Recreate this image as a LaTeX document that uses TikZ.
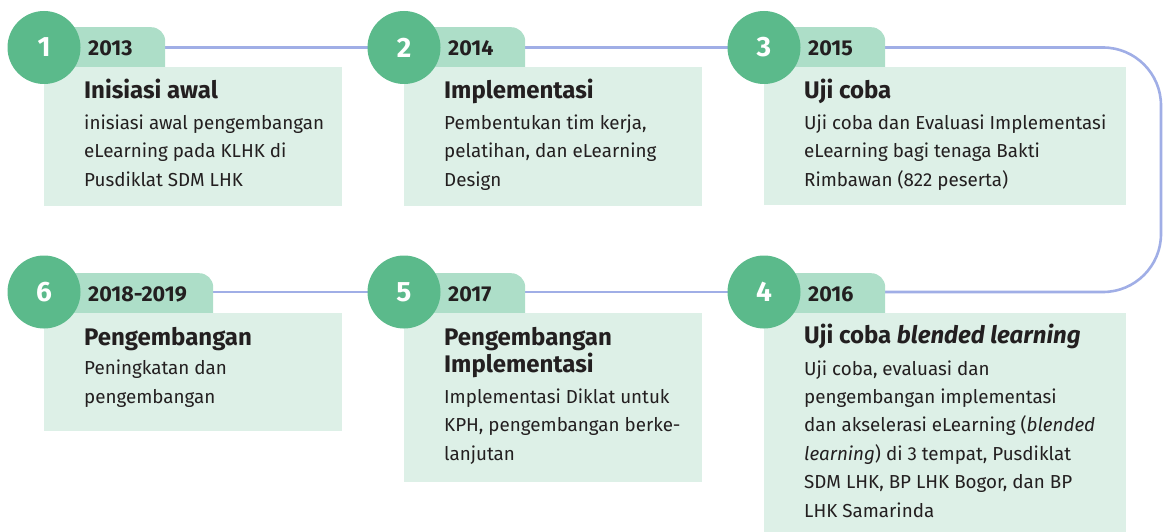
\documentclass[tikz,border=0pt]{standalone}
\usepackage{fontspec}
\setmainfont{Fira Sans}
\definecolor{circ}{HTML}{5BBA8B}
\definecolor{tabc}{HTML}{ADDEC8}
\definecolor{boxc}{HTML}{DDF0E7}
\definecolor{linec}{HTML}{A0AEE6}
\definecolor{ink}{HTML}{231F20}
\begin{document}
\begin{tikzpicture}[x=1pt,y=-1pt,
  conn/.style={draw=linec, line width=2.6pt},
  tabbox/.style={fill=tabc, rounded corners=14pt, minimum height=55pt, anchor=north west, inner sep=0},
  cardbox/.style={fill=boxc, anchor=north west, inner sep=0},
  numcirc/.style={circle, fill=circ, minimum size=73pt, inner sep=0, text=white, font=\fontsize{28}{30}\selectfont\bfseries},
  yeartxt/.style={anchor=base west, inner sep=0, text=ink, font=\fontsize{21.5}{24}\selectfont\bfseries},
  titletxt/.style={anchor=base west, inner sep=0, text=ink, align=left, font=\fontsize{24}{27}\selectfont\bfseries},
  bodytxt/.style={anchor=base west, inner sep=0, text=ink, align=left, font=\fontsize{18.8}{28.4}\selectfont}]
\useasboundingbox (0,0) rectangle (1163,532);
% circle centre coordinates
\coordinate (p1) at (44,47.5);
\coordinate (p2) at (404,47.5);
\coordinate (p3) at (764,47.5);
\coordinate (p6) at (44,292);
\coordinate (p5) at (404,292);
\coordinate (p4) at (764,292);
\coordinate (turnA) at (1161,47.5);
\coordinate (turnB) at (1161,292);
% connectors (behind)
\draw[conn] (p1) -- (p2);
\draw[conn] (p2) -- (p3);
\draw[conn, rounded corners=58pt] (p3) -- (turnA) -- (turnB) -- (p4);
\draw[conn] (p4) -- (p5);
\draw[conn] (p5) -- (p6);
% tabs
\node[tabbox, minimum width=135pt] (t1) at (30,27) {};
\node[tabbox, minimum width=135pt] (t2) at (390,27) {};
\node[tabbox, minimum width=135pt] (t3) at (750,27) {};
\node[tabbox, minimum width=183pt] (t6) at (30,273) {};
\node[tabbox, minimum width=135pt] (t5) at (390,273) {};
\node[tabbox, minimum width=135pt] (t4) at (750,273) {};
% cards
\node[cardbox, minimum width=298pt, minimum height=139pt] (b1) at (44,67) {};
\node[cardbox, minimum width=298pt, minimum height=139pt] (b2) at (404,67) {};
\node[cardbox, minimum width=362pt, minimum height=138pt] (b3) at (764,67) {};
\node[cardbox, minimum width=298pt, minimum height=118pt] (b6) at (44,313) {};
\node[cardbox, minimum width=298pt, minimum height=169pt] (b5) at (404,313) {};
\node[cardbox, minimum width=362pt, minimum height=222pt] (b4) at (764,313) {};
% circles
\node[numcirc] (c1) at (p1) {1};
\node[numcirc] (c2) at (p2) {2};
\node[numcirc] (c3) at (p3) {3};
\node[numcirc] (c6) at (p6) {6};
\node[numcirc] (c5) at (p5) {5};
\node[numcirc] (c4) at (p4) {4};
% years
\node[yeartxt] (y1) at (88,56) {2013};
\node[yeartxt] (y2) at (448,56) {2014};
\node[yeartxt] (y3) at (808,56) {2015};
\node[yeartxt] (y6) at (88,301) {2018-2019};
\node[yeartxt] (y5) at (448,301) {2017};
\node[yeartxt] (y4) at (808,301) {2016};
% titles (anchor = baseline of last line)
\node[titletxt] (h1) at (84,99) {Inisiasi awal};
\node[titletxt] (h2) at (444,99) {Implementasi};
\node[titletxt] (h3) at (804,99) {Uji coba};
\node[titletxt] (h6) at (84,345) {Pengembangan};
\node[titletxt] (h5) at (444,372) {Pengembangan\\Implementasi};
\node[titletxt] (h4) at (804,343) {Uji coba \textit{blended learning}};
% bodies (anchor = baseline of last line)
\node[bodytxt] (d1) at (84,186) {inisiasi awal pengembangan\\eLearning pada KLHK di\\Pusdiklat SDM LHK};
\node[bodytxt] (d2) at (444,186) {Pembentukan tim kerja,\\pelatihan, dan eLearning\\Design};
\node[bodytxt] (d3) at (804,186) {Uji coba dan Evaluasi Implementasi\\eLearning bagi tenaga Bakti\\Rimbawan (822 peserta)};
\node[bodytxt] (d6) at (84,403) {Peningkatan dan\\pengembangan};
\node[bodytxt] (d5) at (444,460) {Implementasi Diklat untuk\\KPH, pengembangan berke-\\lanjutan};
\node[bodytxt] (d4) at (804,517) {Uji coba, evaluasi dan\\pengembangan implementasi\\dan akselerasi eLearning (\textit{blended}\\\textit{learning}) di 3 tempat, Pusdiklat\\SDM LHK, BP LHK Bogor, dan BP\\LHK Samarinda};
\end{tikzpicture}
\end{document}
